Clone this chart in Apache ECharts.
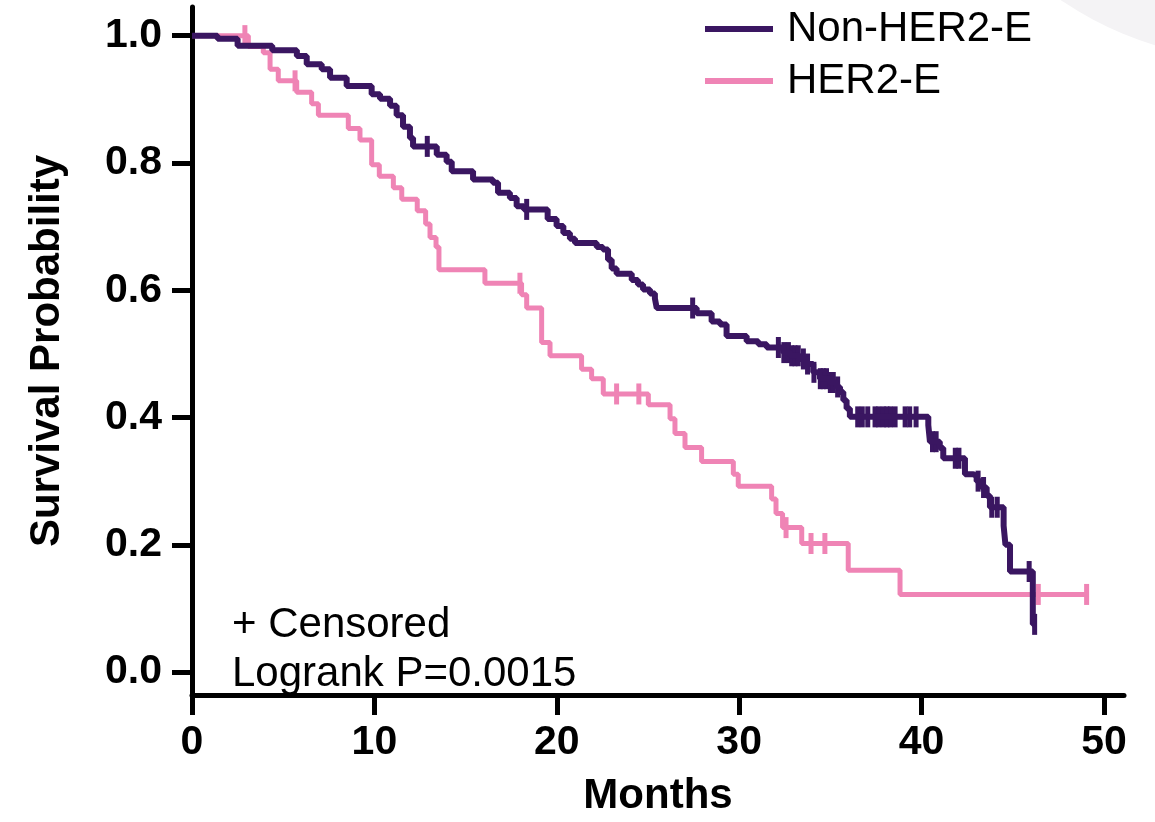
<!DOCTYPE html>
<html>
<head>
<meta charset="utf-8">
<script src="https://cdn.jsdelivr.net/npm/echarts@6/dist/echarts.min.js"></script>
<style>
  html, body { margin: 0; padding: 0; background: #fff; }
  #chart { width: 1155px; height: 822px; }
</style>
</head>
<body>
<div id="chart"></div>
<script>
// Non-HER2-E: step times (months) and survival after each step
const nonTimes = [0, 1.4, 2.5, 4.4, 5.75, 6.29, 7.11, 7.57, 8.48, 9.85, 10.31, 10.86, 11.22, 11.57, 11.95, 12.12,
  13.42, 13.96, 14.24, 15.41, 16.5, 16.78, 17.43, 17.8, 18.2, 19.5, 19.99, 20.36, 20.72, 21.0, 22.19, 22.53,
  22.81, 23.01, 23.28, 24.11, 24.45, 24.73, 25.11, 25.38, 25.48, 27.67, 28.49, 28.95, 29.31, 30.41, 31.05,
  31.51, 32.42, 32.79, 33.33, 33.7, 34.06, 34.43, 34.98, 35.35, 35.53, 35.71, 35.89, 36.07, 40.37, 40.46,
  41.0, 41.19, 42.38, 42.83, 43.02, 43.29, 43.57, 43.75, 44.5, 44.6, 44.85, 46.1]
const nonSurv = [1.0, 0.995, 0.984, 0.977, 0.968, 0.955, 0.947, 0.934, 0.921, 0.908, 0.901, 0.89, 0.875, 0.857, 0.839, 0.826,
  0.813, 0.802, 0.787, 0.774, 0.769, 0.753, 0.745, 0.732, 0.727, 0.712, 0.701, 0.69, 0.681, 0.674, 0.668, 0.664,
  0.648, 0.634, 0.626, 0.616, 0.609, 0.601, 0.595, 0.587, 0.572, 0.564, 0.551, 0.546, 0.528, 0.52, 0.515,
  0.51, 0.502, 0.497, 0.492, 0.484, 0.471, 0.461, 0.455, 0.448, 0.44, 0.427, 0.414, 0.401, 0.388, 0.362,
  0.352, 0.336, 0.311, 0.308, 0.3, 0.29, 0.277, 0.259, 0.23, 0.2, 0.158, 0.075]
const nonCensored = [12.9, 18.35, 27.45, 32.15, 32.45, 32.7, 32.88, 33.06, 33.24, 33.52, 33.75, 34.1, 34.45, 34.61,
  34.79, 35.0, 35.16, 35.4, 36.5, 36.75, 37.05, 37.45, 37.65, 37.9, 38.1, 38.3, 38.55, 39.1, 39.35, 39.7,
  40.6, 40.8, 41.85, 42.05, 43.1, 43.4, 43.85, 44.15, 45.9, 46.2]

// HER2-E
const herTimes = [0, 3.09, 3.91, 4.28, 4.73, 5.74, 6.56, 6.93, 8.57, 9.21, 9.85, 10.27, 11.04, 11.5, 12.35, 12.81,
  13.05, 13.38, 13.54, 16.06, 18.07, 18.35, 19.17, 19.63, 21.36, 21.91, 22.55, 25.02, 26.21, 26.48, 27.03,
  27.94, 29.68, 29.95, 31.78, 32.02, 32.38, 33.43, 35.98, 38.82]
const herSurv = [1.0, 0.983, 0.973, 0.947, 0.929, 0.911, 0.893, 0.875, 0.854, 0.836, 0.797, 0.779, 0.761, 0.743, 0.725, 0.704,
  0.683, 0.668, 0.632, 0.611, 0.593, 0.572, 0.518, 0.497, 0.476, 0.461, 0.437, 0.42, 0.398, 0.375, 0.353,
  0.331, 0.311, 0.292, 0.272, 0.249, 0.227, 0.202, 0.16, 0.122]
const herCensored = [2.9, 5.65, 17.98, 23.28, 24.5, 32.57, 33.94, 34.7, 46.4, 49.05]

const xTicks = [0, 10, 20, 30, 40, 50]
const yTicks = [0, 0.2, 0.4, 0.6, 0.8, 1.0]

const PURPLE = '#3a1661'
const PINK = '#ef84b5'
const FONT = '"Liberation Sans", Arial, sans-serif'

// survival value in effect at time t
const survAt = (times, surv, t) => {
  let v = surv[0]
  for (let i = 0; i < times.length; i++) {
    if (times[i] <= t) v = surv[i]
  }
  return v
}

// step points, extended to the last censored time
const stepData = (times, surv, censored) => {
  const pts = times.map((t, i) => [t, surv[i]])
  const last = censored[censored.length - 1]
  pts.push([last, survAt(times, surv, last)])
  return pts
}

const censorData = (times, surv, censored) => censored.map(t => [t, survAt(times, surv, t)])

const chart = echarts.init(document.getElementById('chart'))

const option = {
  animation: false,
  backgroundColor: '#fff',
  grid: { left: 192, right: 31, top: 7, bottom: 119 },
  graphic: [
    {
      type: 'circle',
      z: -10,
      shape: { cx: 1255, cy: -285, r: 345 },
      style: { fill: '#f4f3f5' }
    },
    {
      type: 'text',
      left: 232,
      top: 604,
      style: { text: '+ Censored', font: '42px ' + FONT, fill: '#000' }
    },
    {
      type: 'text',
      left: 232,
      top: 653,
      style: { text: 'Logrank P=0.0015', font: '42px ' + FONT, fill: '#000' }
    }
  ],
  legend: {
    orient: 'vertical',
    left: 700,
    top: 3,
    itemGap: 10,
    itemWidth: 68,
    itemHeight: 6,
    icon: 'rect',
    data: ['Non-HER2-E', 'HER2-E'],
    textStyle: {
      fontFamily: FONT,
      fontSize: 42,
      lineHeight: 42,
      color: '#000',
      padding: [0, 0, 0, 9]
    }
  },
  xAxis: {
    type: 'value',
    min: 0,
    max: 51.1,
    name: 'Months',
    nameLocation: 'middle',
    nameGap: 80,
    nameTextStyle: { fontFamily: FONT, fontSize: 42, fontWeight: 'bold', color: '#000' },
    axisLine: { onZero: false, lineStyle: { color: '#000', width: 5 } },
    axisTick: { customValues: xTicks, length: 20, lineStyle: { color: '#000', width: 5 } },
    axisLabel: {
      customValues: xTicks,
      margin: 27,
      fontFamily: FONT,
      fontSize: 41,
      fontWeight: 'bold',
      color: '#000'
    },
    splitLine: { show: false }
  },
  yAxis: {
    type: 'value',
    min: -0.036,
    max: 1.045,
    name: 'Survival Probability',
    nameLocation: 'middle',
    nameGap: 124,
    nameTextStyle: { fontFamily: FONT, fontSize: 42, fontWeight: 'bold', color: '#000' },
    axisLine: { show: true, onZero: false, lineStyle: { color: '#000', width: 5 } },
    axisTick: { show: true, customValues: yTicks, length: 20, lineStyle: { color: '#000', width: 5 } },
    axisLabel: {
      customValues: yTicks,
      margin: 30,
      fontFamily: FONT,
      fontSize: 41,
      fontWeight: 'bold',
      color: '#000',
      formatter: v => v.toFixed(1)
    },
    splitLine: { show: false }
  },
  series: [
    {
      name: 'HER2-E',
      type: 'line',
      step: 'end',
      showSymbol: false,
      color: PINK,
      lineStyle: { color: PINK, width: 5 },
      data: stepData(herTimes, herSurv, herCensored)
    },
    {
      name: 'HER2-E censored',
      type: 'scatter',
      symbol: 'rect',
      symbolSize: [5, 21],
      itemStyle: { color: PINK, opacity: 1 },
      data: censorData(herTimes, herSurv, herCensored)
    },
    {
      name: 'Non-HER2-E',
      type: 'line',
      step: 'end',
      showSymbol: false,
      color: PURPLE,
      lineStyle: { color: PURPLE, width: 6 },
      data: stepData(nonTimes, nonSurv, nonCensored)
    },
    {
      name: 'Non-HER2-E censored',
      type: 'scatter',
      symbol: 'rect',
      symbolSize: [5, 21],
      itemStyle: { color: PURPLE, opacity: 1 },
      data: censorData(nonTimes, nonSurv, nonCensored)
    }
  ]
}

chart.setOption(option)
</script>
</body>
</html>
